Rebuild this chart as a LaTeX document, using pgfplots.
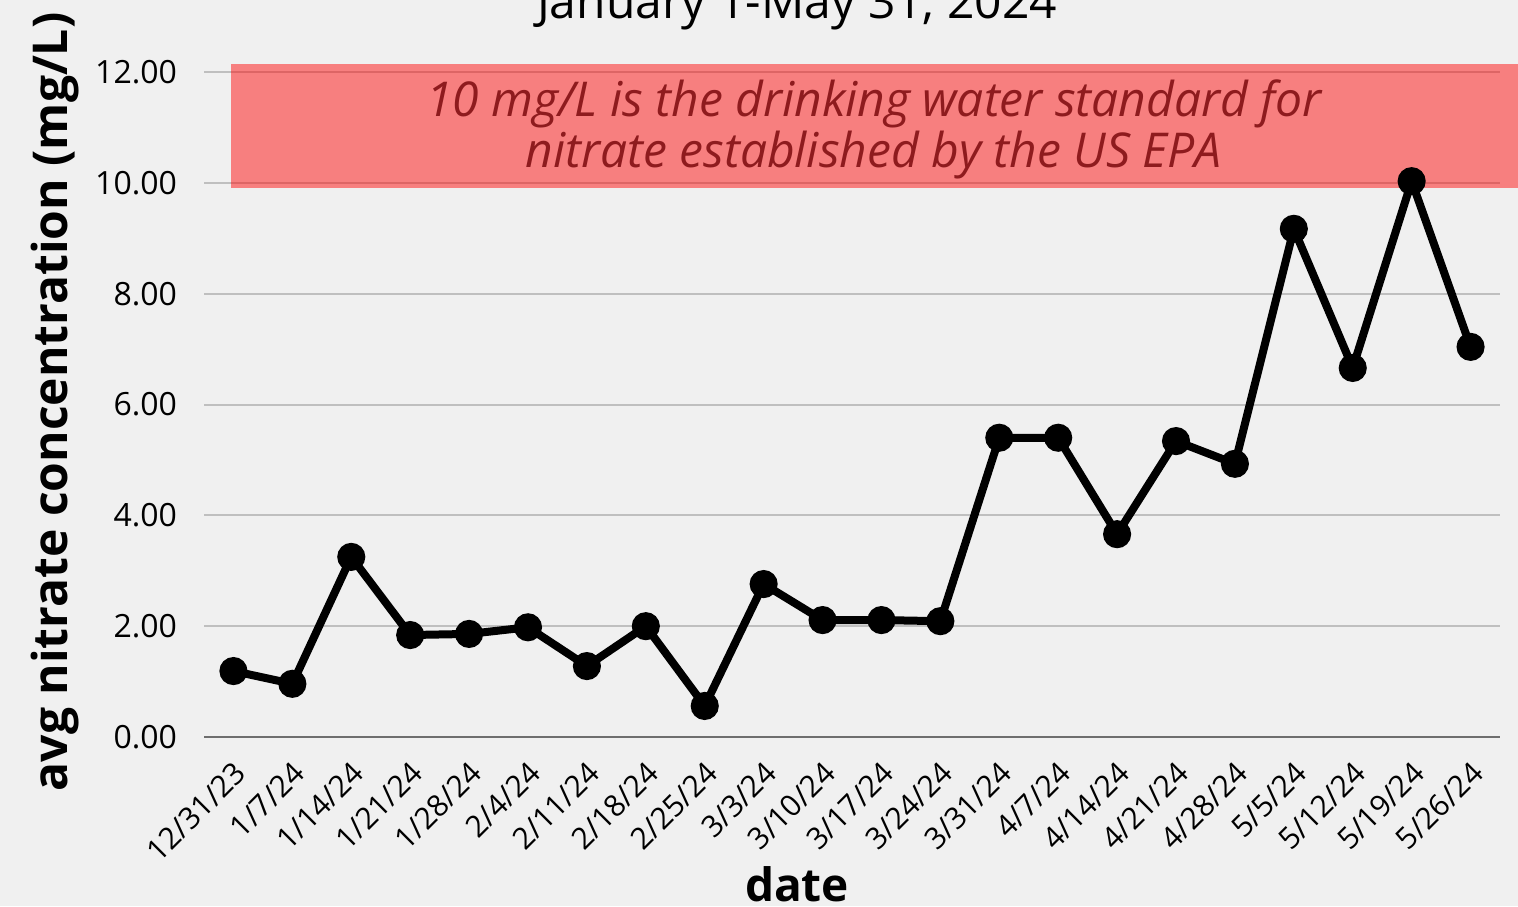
\documentclass[border=0pt]{standalone}
\usepackage{fontspec}
\setmainfont{Open Sans}
\usepackage{pgfplots}
\pgfplotsset{compat=1.18}
\definecolor{bg}{HTML}{F0F0F0}
\definecolor{gridgray}{HTML}{BFBFBF}
\definecolor{axisgray}{HTML}{6E6E6E}
\definecolor{bandtext}{HTML}{8E1B1E}
\begin{document}
\begin{tikzpicture}
\fill[bg] (0,0) rectangle (759pt,453pt);
\begin{axis}[
  at={(102pt,84.5pt)}, anchor=south west,
  scale only axis, width=648pt, height=332.5pt,
  xmin=-0.5, xmax=21.5, ymin=0, ymax=12,
  clip=false,
  separate axis lines,
  axis x line*=bottom, axis y line*=left,
  x axis line style={draw=axisgray, line width=1.2pt, -},
  y axis line style={draw=none},
  major tick length=0pt,
  ytick={0,2,4,6,8,10,12},
  yticklabel style={/pgf/number format/.cd, fixed, fixed zerofill, precision=2, /tikz/.cd, font=\fontsize{16}{19}\selectfont, xshift=-10pt},
  /pgf/number format/assume math mode=true,
  ymajorgrids, grid style={color=gridgray, line width=1pt},
  xtick={0,1,...,21},
  xticklabels={12/31/23,1/7/24,1/14/24,1/21/24,1/28/24,2/4/24,2/11/24,2/18/24,2/25/24,3/3/24,3/10/24,3/17/24,3/24/24,3/31/24,4/7/24,4/14/24,4/21/24,4/28/24,5/5/24,5/12/24,5/19/24,5/26/24},
  xticklabel style={xshift=6pt, yshift=-13pt, rotate=45, anchor=east, font=\fontsize{15}{18}\selectfont},
  title={January 1-May 31, 2024},
  title style={at={(axis description cs:0.4576,1.062)}, anchor=base, font=\fontsize{24}{29}\selectfont},
  xlabel={date},
  xlabel style={at={(axis description cs:0.4576,-0.248)}, anchor=base, font=\bfseries\fontsize{23}{28}\selectfont},
  ylabel={avg nitrate concentration (mg/L)},
  ylabel style={at={(axis description cs:-0.115,0.504)}, anchor=center, font=\bfseries\fontsize{24}{28}\selectfont},
]
\fill[red, opacity=0.47] (axis cs:-0.05,9.91) rectangle (axis cs:21.83,12.14);
\node[text=bandtext, align=center, font=\itshape\fontsize{24}{25.5}\selectfont] at (axis cs:10.87,10.97) {10 mg/L is the drinking water standard for\\nitrate established by the US EPA};
\addplot[black, line width=4pt, mark=*, mark size=5pt, mark options={solid}] coordinates {
(0,1.19) (1,0.96) (2,3.25) (3,1.84) (4,1.86) (5,1.98) (6,1.28) (7,2.00) (8,0.56) (9,2.76) (10,2.11) (11,2.11) (12,2.09) (13,5.40) (14,5.40) (15,3.66) (16,5.34) (17,4.93) (18,9.17) (19,6.66) (20,10.03) (21,7.04)
};
\end{axis}
\pgfresetboundingbox
\useasboundingbox (0,0) rectangle (759pt,453pt);
\end{tikzpicture}
\end{document}
